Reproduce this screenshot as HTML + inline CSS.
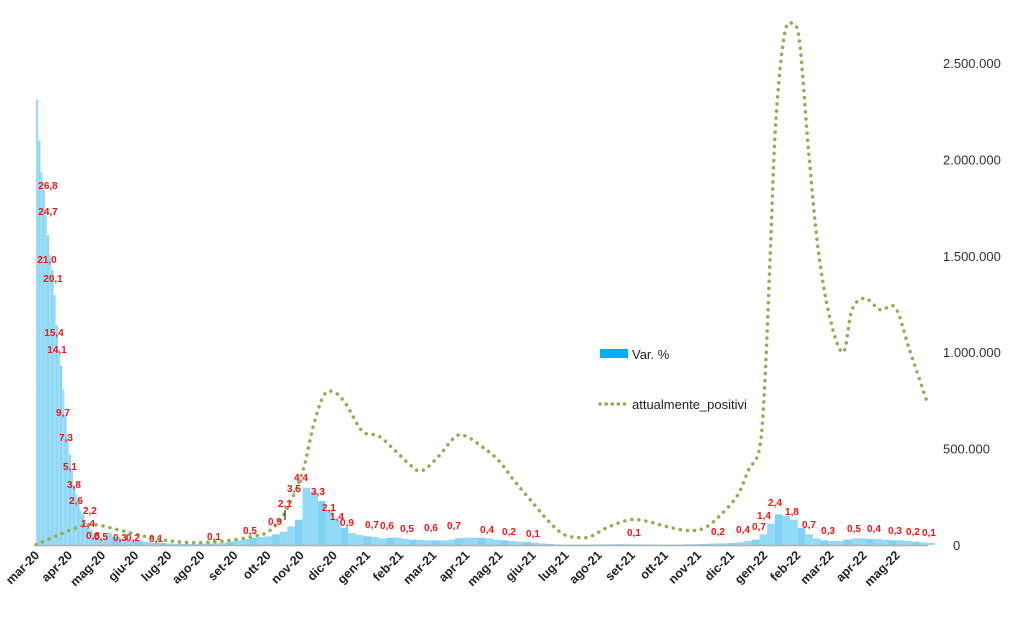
<!DOCTYPE html>
<html><head><meta charset="utf-8"><style>
body{margin:0;background:#fff}
svg{display:block;font-family:"Liberation Sans",sans-serif}
</style></head><body>
<svg id="chart" width="1024" height="631" viewBox="0 0 1024 631" xmlns="http://www.w3.org/2000/svg">
<g id="bars"></g>
<line x1="36" y1="545.5" x2="928" y2="545.5" stroke="#b0b0b0" stroke-width="1.5"/>
<path id="line" fill="none" stroke="#8db050" stroke-width="3.5" stroke-linecap="round" stroke-dasharray="0.1 7"/>
<g id="xticks"></g>
<g id="yticks"></g>
<g id="labels" fill="#ff1010" font-size="10" font-weight="bold" text-anchor="middle"></g>
<line x1="285" y1="510" x2="285" y2="520" stroke="#000"/>
<g>
<rect x="600" y="349" width="28" height="9" fill="#00b0f0"/>
<text x="632" y="359" font-size="13" fill="#222">Var. %</text>
<line x1="600" y1="404" x2="628" y2="404" stroke="#8db050" stroke-width="3.5" stroke-linecap="round" stroke-dasharray="0.1 6"/>
<text x="632" y="409" font-size="13" fill="#222">attualmente_positivi</text>
</g>
</svg>
<script>
const months = ["mar-20","apr-20","mag-20","giu-20","lug-20","ago-20","set-20","ott-20","nov-20","dic-20","gen-21","feb-21","mar-21","apr-21","mag-21","giu-21","lug-21","ago-21","set-21","ott-21","nov-21","dic-21","gen-22","feb-22","mar-22","apr-22","mag-22"];
const rightTicks = [0,500000,1000000,1500000,2000000,2500000];
const rightTickLabels = ["0","500.000","1.000.000","1.500.000","2.000.000","2.500.000"];
// early Var. % values, every 2 days from day 0
const earlyBarVals = [33.5,30.4,28,26.7,24.8,23.3,21.8,20.7,18.8,16.5,14.7,13.5,11.7,9.8,8.3,6.8,5.6,4.5,3.8,3.2,2.6,2.3,1.9,1.6,1.35,1.1,0.9,0.75,0.6,0.5,0.45,0.4];
// weekly Var. % values starting week 9
const barVals = [0.9,0.6,0.45,0.35,0.3,0.25,0.2,0.15,0.12,0.1,0.08,0.08,0.08,0.1,0.12,0.15,0.25,0.35,0.45,0.55,0.6,0.65,0.8,1.0,1.4,1.9,4.3,4.0,3.3,2.6,1.9,1.3,0.9,0.75,0.65,0.6,0.5,0.55,0.55,0.45,0.4,0.38,0.35,0.35,0.35,0.4,0.5,0.55,0.55,0.55,0.5,0.4,0.35,0.3,0.25,0.22,0.18,0.12,0.08,0.05,0.03,0.03,0.03,0.03,0.04,0.05,0.06,0.06,0.06,0.05,0.04,0.04,0.03,0.03,0.03,0.04,0.05,0.06,0.08,0.1,0.12,0.12,0.15,0.2,0.3,0.4,0.8,1.6,2.3,2.2,1.9,1.3,0.8,0.5,0.35,0.3,0.3,0.4,0.5,0.5,0.45,0.45,0.4,0.35,0.35,0.3,0.25,0.2,0.15];
// attualmente_positivi: day offsets and values
const lineDays = [0,20,40,54,75,100,125,150,175,200,215,230,245,255,265,275,285,300,315,330,345,355,370,385,395,410,425,440,455,470,485,500,510,525,545,560,580,600,615,630,645,655,665,670,675,680,688,696,702,710,719,730,742,750,762,776,790,803,820];
const lineVals = [2000,50000,95000,106000,80000,45000,20000,12000,22000,45000,75000,180000,380000,620000,780000,790000,730000,590000,565000,490000,410000,385000,460000,560000,565000,510000,440000,330000,230000,130000,55000,38000,45000,90000,130000,125000,95000,75000,90000,160000,260000,390000,500000,855000,1530000,2200000,2650000,2700000,2600000,2050000,1530000,1170000,1000000,1220000,1280000,1220000,1230000,1010000,725000];

const x0=36, pxDay=1.088, base=545, weekStart=9;
const xDay = d => x0 + d*pxDay;
const yBar = v => base - v*13.3;
const yLine = v => base - v/500000*96.4;
const NS="http://www.w3.org/2000/svg";
const mk=(t,a)=>{const e=document.createElementNS(NS,t);for(const k in a)e.setAttribute(k,a[k]);return e;};

const bars=document.getElementById('bars');
earlyBarVals.forEach((v,i)=>{
  const r=mk('rect',{x:xDay(i*2),y:yBar(v),width:2.3,height:base-yBar(v),fill:(i%2?'#8ad7f5':'#a0def7')});
  
  
  bars.appendChild(r);
});
barVals.forEach((v,i)=>{
  const r=mk('rect',{x:xDay((i+weekStart)*7),y:yBar(v),width:7.7,height:base-yBar(v),fill:(i%3==1?'#7fd2f3':'#92daf6')});
  
  
  bars.appendChild(r);
});

const pts=lineDays.map((d,i)=>[xDay(d),yLine(lineVals[i])]);
let dStr=`M${pts[0][0]},${pts[0][1]}`;
for(let i=0;i<pts.length-1;i++){
  const p0=pts[Math.max(0,i-1)],p1=pts[i],p2=pts[i+1],p3=pts[Math.min(pts.length-1,i+2)];
  const c1=[p1[0]+(p2[0]-p0[0])/6,p1[1]+(p2[1]-p0[1])/6];
  const c2=[p2[0]-(p3[0]-p1[0])/6,p2[1]-(p3[1]-p1[1])/6];
  dStr+=` C${c1[0]},${c1[1]} ${c2[0]},${c2[1]} ${p2[0]},${p2[1]}`;
}
document.getElementById('line').setAttribute('d',dStr);

const xt=document.getElementById('xticks');
months.forEach((m,i)=>{
  const x=x0+i*33.1;
  const t=mk('text',{x:x+4,y:556,'text-anchor':'end','font-size':'12.5','font-weight':'bold',fill:'#222',transform:`rotate(-45 ${x+4} 556)`});
  t.textContent=m;
  
  
  xt.appendChild(t);
});
const yt=document.getElementById('yticks');
rightTicks.forEach((v,i)=>{
  const t=mk('text',{x:i==0?953:943,y:yLine(v)+5,'font-size':'13',fill:'#333'});
  t.textContent=rightTickLabels[i];
  
  
  yt.appendChild(t);
});

const labelTexts=["26,8","24,7","21,0","20,1","15,4","14,1","9,7","7,3","5,1","3,8","2,6","2,2","1,4","0,8","0,5","0,3","0,2","0,1","0,1","0,5","0,9","2,1","3,5","4,4","3,3","2,1","1,4","0,9","0,7","0,6","0,5","0,6","0,7","0,4","0,2","0,1","0,1","0,2","0,4","0,7","1,4","2,4","1,8","0,7","0,3","0,5","0,4","0,3","0,2","0,1"];
const labelPos=[[48,189],[48,215],[47,263],[53,282],[54,336],[57,353],[63,416],[66,441],[70,470],[74,488],[76,504],[90,514],[88,527],[93,539],[101,540],[120,541],[133,541],[156,542],[214,540],[250,534],[275,525],[285,507],[294,492],[301,481],[318,495],[329,511],[337,520],[347,526],[372,528],[387,529],[407,532],[431,531],[454,529],[487,533],[509,535],[533,537],[634,536],[718,535],[743,533],[759,530],[764,519],[775,506],[792,515],[809,528],[828,534],[854,532],[874,532],[895,534],[913,535],[929,536]];
const lg=document.getElementById('labels');
labelTexts.forEach((s,i)=>{
  const t=mk('text',{x:labelPos[i][0],y:labelPos[i][1]});
  t.textContent=s;
  
  
  lg.appendChild(t);
});
</script>
</body></html>
